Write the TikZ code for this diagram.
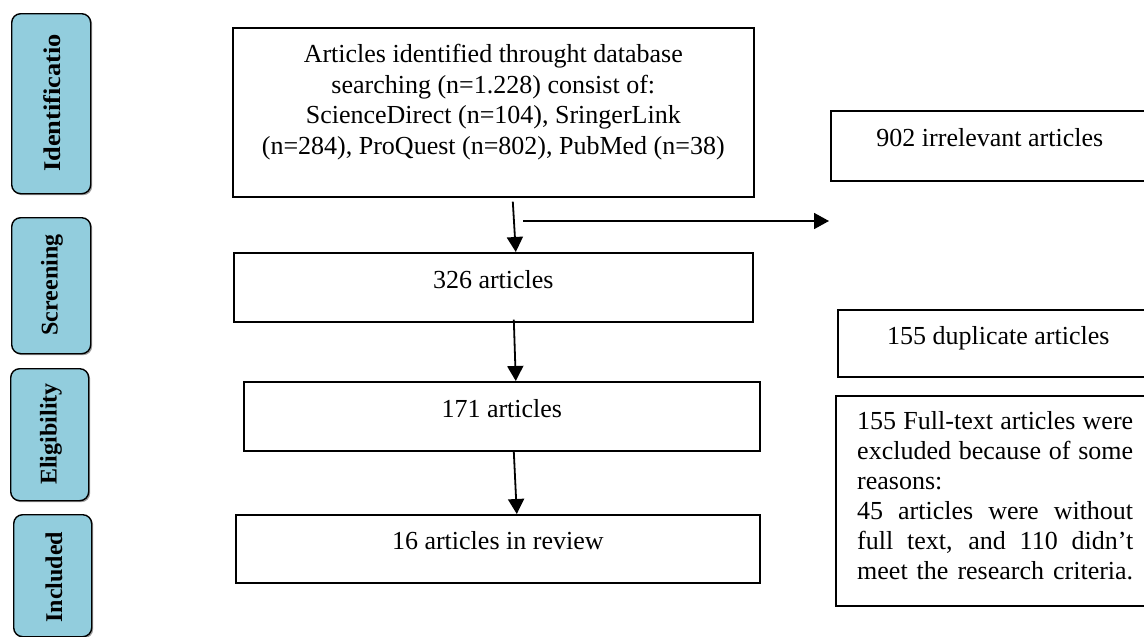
\documentclass[tikz,border=0pt]{standalone}
\usepackage{fontspec}
\setmainfont{Liberation Serif}
\usetikzlibrary{arrows.meta,shadows}
\definecolor{phase}{RGB}{146,205,221}
\tikzset{
  box/.style={draw, line width=1.6pt, rectangle, inner sep=0pt, anchor=north west,
    font=\fontsize{26}{30.5}\selectfont},
  onebox/.style={box, text height=10pt, text depth=8pt},
  phasebox/.style={draw, line width=1.4pt, fill=phase, rounded corners=9pt, inner sep=0pt,
    anchor=north west,
    drop shadow={shadow xshift=1.5pt, shadow yshift=-1.5pt, opacity=0.55, fill=black!70}},
  phasetext/.style={rotate=90, inner sep=0pt, font=\bfseries\fontsize{24}{28}\selectfont},
  arr/.style={line width=1.8pt, -{Triangle[width=16pt,length=15pt]}},
}
\begin{document}
\begin{tikzpicture}[x=1pt,y=-1pt]
\path[use as bounding box] (0,0) rectangle (1144,637);
\clip (0,0) rectangle (1144,637);

% phase labels
\node[phasebox, minimum width=79pt, minimum height=180pt] (p1) at (11,13) {};
\node[phasetext] (p1t) at (52,103) {\scalebox{1.1}[1]{Identificatio}};
\node[phasebox, minimum width=79pt, minimum height=136pt] (p2) at (11,217) {};
\node[phasetext] (p2t) at (52,285) {Screening};
\node[phasebox, minimum width=78pt, minimum height=132pt] (p3) at (10,368) {};
\node[phasetext] (p3t) at (51,434) {Eligibility};
\node[phasebox, minimum width=78pt, minimum height=122pt] (p4) at (13,514) {};
\node[phasetext] (p4t) at (54,577) {Included};

% main column
\node[box, minimum width=521pt, minimum height=169pt] (b1) at (232,27) {};
\node[anchor=north, inner sep=0pt, align=center, font=\fontsize{26}{30.5}\selectfont]
  (b1t) at ([yshift=-17pt]b1.north) {Articles identified throught database\\
  searching (n=1.228) consist of:\\
  ScienceDirect (n=104), SringerLink\\
  (n=284), ProQuest (n=802), PubMed (n=38)};
\node[onebox, minimum width=519pt, minimum height=69pt] (b2) at (233,252) {326 articles};
\node[onebox, minimum width=516pt, minimum height=69pt] (b3) at (243,381) {171 articles};
\node[onebox, minimum width=524pt, minimum height=68pt] (b4) at (235,514) {16 articles in review};

% right column
\node[onebox, minimum width=318pt, minimum height=70pt] (r1) at (830,110) {902 irrelevant articles};
\node[onebox, minimum width=321pt, minimum height=67pt] (r2) at (837,309) {155 duplicate articles};
\node[box, minimum width=320pt, minimum height=210pt] (r3) at (835,395) {};
\node[anchor=north west, inner sep=0pt, font=\fontsize{26}{30}\selectfont, align=left]
  (r3t) at ([xshift=22pt,yshift=-16pt]r3.north west) {%
  \makebox[276pt][s]{155 Full-text articles were}\\
  \makebox[276pt][s]{excluded because of some}\\
  \makebox[276pt][l]{reasons:}\\
  \makebox[276pt][s]{45 articles were without}\\
  \makebox[276pt][s]{full text, and 110 didn’t}\\
  \makebox[276pt][s]{meet the research criteria.}};

% connectors
\draw[arr] ([xshift=19.5pt,yshift=-4pt]b1.south) -- ([xshift=22.5pt]b2.north);
\draw[arr] ([xshift=20.5pt,yshift=3pt]b2.south) -- ([xshift=14pt]b3.north);
\draw[arr] ([xshift=12pt]b3.south) -- ([xshift=19pt]b4.north);
\coordinate (h1) at (523,221);
\coordinate (h2) at (829,221);
\draw[arr] (h1) -- (h2);
\end{tikzpicture}
\end{document}
